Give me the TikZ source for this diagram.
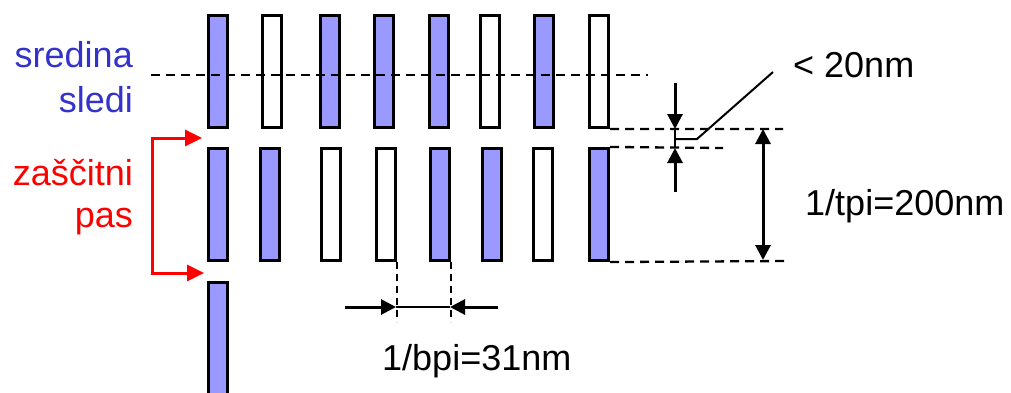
\documentclass[tikz,border=0pt]{standalone}
\usepackage{fontspec}
\setmainfont{Liberation Sans}
\usetikzlibrary{arrows.meta}
\definecolor{bitfill}{HTML}{9999FF}
\definecolor{trackblue}{HTML}{3333CC}
\tikzset{
  bit/.style={draw, line width=2.6pt, inner sep=0pt, minimum width=19.5pt, minimum height=112.5pt},
  guide/.style={line width=2.3pt, dash pattern=on 9pt off 6pt},
  dimtip/.tip={Triangle[length=15pt,width=15pt]},
  dimline/.style={line width=3pt, -dimtip},
  lbl/.style={inner sep=0pt, font=\fontsize{36}{43}\selectfont},
}

\begin{document}
\begin{tikzpicture}[x=1pt,y=-1pt]
\useasboundingbox (0,0) rectangle (1011,392);
\clip (0,0) rectangle (1011,392);

% sledi
\foreach \x/\f [count=\i] in {218/100,272/0,330/100,384/100,439/100,490/0,544/100,599/0}
  \node[bit, fill=bitfill!\f!white] (t\i) at (\x,71.5) {};
\foreach \x/\f [count=\i] in {218/100,270/100,331/0,386/0,440/100,492/100,543/0,599/100}
  \node[bit, fill=bitfill!\f!white] (r\i) at (\x,204.5) {};
\node[bit, fill=bitfill] (b1) at (218,339) {};

% sredina sledi
\coordinate (midl) at (151,75);
\coordinate (midr) at (648,75);
\draw[guide] (midl) -- (midr);

\node[lbl, text=trackblue, anchor=base east] (sredina) at (133,67) {sredina};
\node[lbl, text=trackblue, anchor=base east] (sledi) at (133,112) {sledi};

% zascitni pas
\node[lbl, text=red, anchor=base east] (zascitni) at (133,185) {zaščitni};
\node[lbl, text=red, anchor=base east] (pas) at (133,227) {pas};
\coordinate (gtop) at (202,138);
\coordinate (gbot) at (204,273);
\draw[red, line width=3pt, {Triangle[length=17pt,width=16pt]}-{Triangle[length=17pt,width=16pt]}]
  (gtop) -- (152,138) |- (gbot);

% razmak med sledmi
\coordinate (g1) at (783,129);
\coordinate (g2) at (723,148);
\coordinate (g3) at (787,261);
\draw[guide] (t8.south east) -- (g1);
\draw[guide] (r8.north east) -- (g2);
\draw[guide] (r8.south east) -- (g3);

\coordinate (sa) at (675,83);
\coordinate (sb) at (675,129);
\coordinate (sc) at (675,148);
\coordinate (sd) at (675,192);
\draw[dimline] (sa) -- (sb);
\draw[dimline] (sd) -- (sc);
\draw[line width=1.8pt] (sb) -- (sc);
\node[lbl, anchor=base west] (gap) at (793,77) {< 20nm};
\draw[line width=2pt] (675,139) -- (697,139) -- (773,72);

\coordinate (ta) at (763,129);
\coordinate (tb) at (763,260);
\draw[line width=3pt, dimtip-dimtip] (ta) -- (tb);
\node[lbl, anchor=base west] (tpi) at (805,215) {1/tpi=200nm};

% razmak med biti
\draw[guide, dash pattern=on 7pt off 5pt] (r4.south east) -- ++(0,60);
\draw[guide, dash pattern=on 7pt off 5pt] (r5.south east) -- ++(0,60);
\coordinate (ba) at (345,307);
\coordinate (bb) at (396,307);
\coordinate (bc) at (450,307);
\coordinate (bd) at (498,307);
\draw[dimline] (ba) -- (bb);
\draw[dimline] (bd) -- (bc);
\draw[line width=2pt] (bb) -- (bc);
\node[lbl, anchor=base west] (bpi) at (382,370) {1/bpi=31nm};
\end{tikzpicture}
\end{document}
